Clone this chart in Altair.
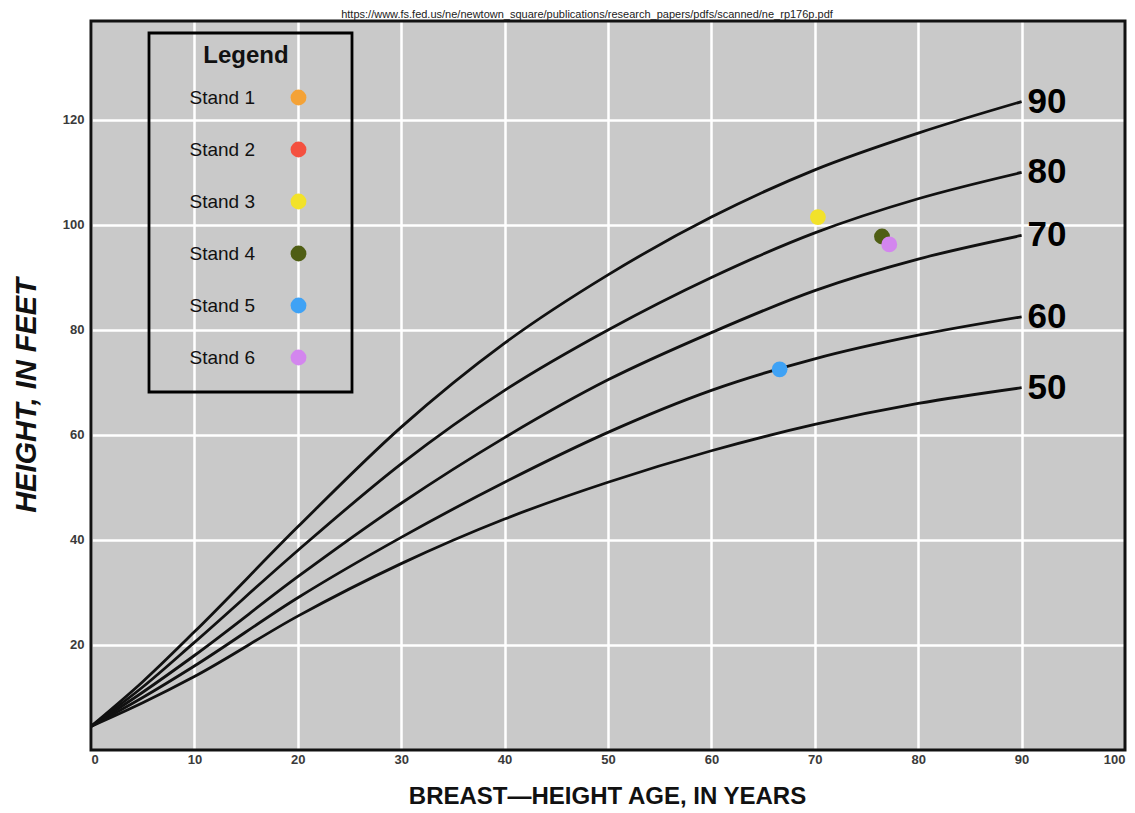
import altair as alt
import pandas as pd

# ---- data ----
ages = [0, 5, 10, 20, 30, 40, 50, 60, 70, 80, 90]
si90 = [4.5, 13, 22.5, 42.5, 61.5, 77.5, 90.5, 101.5, 110.5, 117.5, 123.5]
si80 = [4.5, 12, 20.5, 38, 54.5, 68.5, 80, 90, 98.5, 105, 110]
si70 = [4.5, 11, 18, 33, 47, 59.5, 70.5, 79.5, 87.5, 93.5, 98]
si60 = [4.5, 10, 16, 29, 40.5, 51, 60.5, 68.5, 74.5, 79, 82.5]
si50 = [4.5, 9, 14, 25.5, 35.5, 44, 51, 57, 62, 66, 69]
site_index = [90, 80, 70, 60, 50]

stands = ["Stand 1", "Stand 2", "Stand 3", "Stand 4", "Stand 5", "Stand 6"]
stand_colors = ["#F4A236", "#F4503F", "#F2E22A", "#4F5E14", "#3FA2F5", "#D386EE"]

point_stands = ["Stand 3", "Stand 4", "Stand 5", "Stand 6"]
point_ages = [70.3, 76.5, 66.6, 77.2]
point_heights = [101.5, 97.8, 72.5, 96.3]

x_ticks = [0, 10, 20, 30, 40, 50, 60, 70, 80, 90, 100]
y_ticks = [20, 40, 60, 80, 100, 120]

url = "https://www.fs.fed.us/ne/newtown_square/publications/research_papers/pdfs/scanned/ne_rp176p.pdf"
x_title = "BREAST\u2014HEIGHT AGE, IN YEARS"
y_title = "HEIGHT, IN FEET"
legend_title = "Legend"

# ---- tables ----
curves = []
for si, vals in zip(site_index, [si90, si80, si70, si60, si50]):
    for a, h in zip(ages, vals):
        curves.append({"si": si, "age": a, "height": h})
curves = pd.DataFrame(curves)
ends = curves[curves["age"] == ages[-1]]
points = pd.DataFrame({"stand": point_stands, "age": point_ages, "height": point_heights})

W, H = 1034, 729
FONT = "Liberation Sans"

xscale = alt.Scale(domain=[0, 100], nice=False, zero=False)
yscale = alt.Scale(domain=[0, 138.85], nice=False, zero=False)

xenc = alt.X("age:Q", scale=xscale, axis=alt.Axis(
    values=x_ticks, title=x_title, grid=True, gridColor="white", gridWidth=2.5,
    ticks=False, domain=False, labelPadding=3, labelFontSize=13, labelFont=FONT,
    labelFontWeight="bold", labelColor="#3a3a3a", titleFont=FONT, titleFontSize=24,
    titleFontWeight="bold", titleColor="#111", titleX=516, titleY=46,
    titleBaseline="middle", titleAlign="center"))
yenc = alt.Y("height:Q", scale=yscale, axis=alt.Axis(
    values=y_ticks, title=y_title, grid=True, gridColor="white", gridWidth=2.5,
    ticks=False, domain=False, labelPadding=7, labelFontSize=13, labelFont=FONT,
    labelFontWeight="bold", labelColor="#3a3a3a", titleFont=FONT, titleFontSize=29,
    titleFontWeight="bold", titleFontStyle="italic", titleColor="#111",
    titleX=-65, titleY=374, titleBaseline="middle", titleAlign="center"))

lines = alt.Chart(curves).mark_line(color="#111", strokeWidth=2.8, interpolate="monotone").encode(
    x=xenc, y=yenc, detail="si:N")

labels = alt.Chart(ends).mark_text(align="left", baseline="middle", dx=6, fontSize=35,
                                   fontWeight="bold", font=FONT, color="#000").encode(
    x="age:Q", y="height:Q", text="si:N")

pts = alt.Chart(points).mark_circle(size=250, opacity=1).encode(
    x="age:Q", y="height:Q",
    color=alt.Color("stand:N", scale=alt.Scale(domain=stands, range=stand_colors),
                    legend=alt.Legend(
                        title=None, orient="none", legendX=198, legendY=67, padding=0,
                        labelFontSize=19, labelFont=FONT, labelColor="#111",
                        labelAlign="right", labelOffset=alt.ExprRef(expr="-53"),
                        symbolType="circle", symbolSize=250, symbolStrokeWidth=0,
                        symbolOpacity=1, rowPadding=32)))

one = pd.DataFrame({"t": [url]})
legend_box = alt.Chart(one).mark_rect(fillOpacity=0, stroke="#000", strokeWidth=2.8).encode(
    x=alt.value(58), x2=alt.value(261), y=alt.value(12), y2=alt.value(371))
legend_head = alt.Chart(pd.DataFrame({"t": [legend_title]})).mark_text(
    fontSize=24, font=FONT, fontWeight="bold", color="#111", align="center",
    baseline="middle").encode(text="t:N", x=alt.value(155), y=alt.value(35))
frame = alt.Chart(one).mark_rect(fillOpacity=0, stroke="#111", strokeWidth=3).encode(
    x=alt.value(0), x2=alt.value(W), y=alt.value(0), y2=alt.value(H))
url_text = alt.Chart(one).mark_text(fontSize=11, font=FONT, baseline="alphabetic",
                                    align="center", color="#222").encode(
    text="t:N", x=alt.value(496), y=alt.value(-3))

chart = alt.layer(lines, labels, pts, legend_box, legend_head, frame, url_text).properties(
    width=W, height=H,
    autosize=alt.AutoSizeParams(type="none"),
    padding={"left": 83, "top": 13, "right": 2, "bottom": 62},
).configure_view(fill="#c9c9c9", stroke=None)

chart.save("out.html", embed_options={"renderer": "svg", "actions": False})
